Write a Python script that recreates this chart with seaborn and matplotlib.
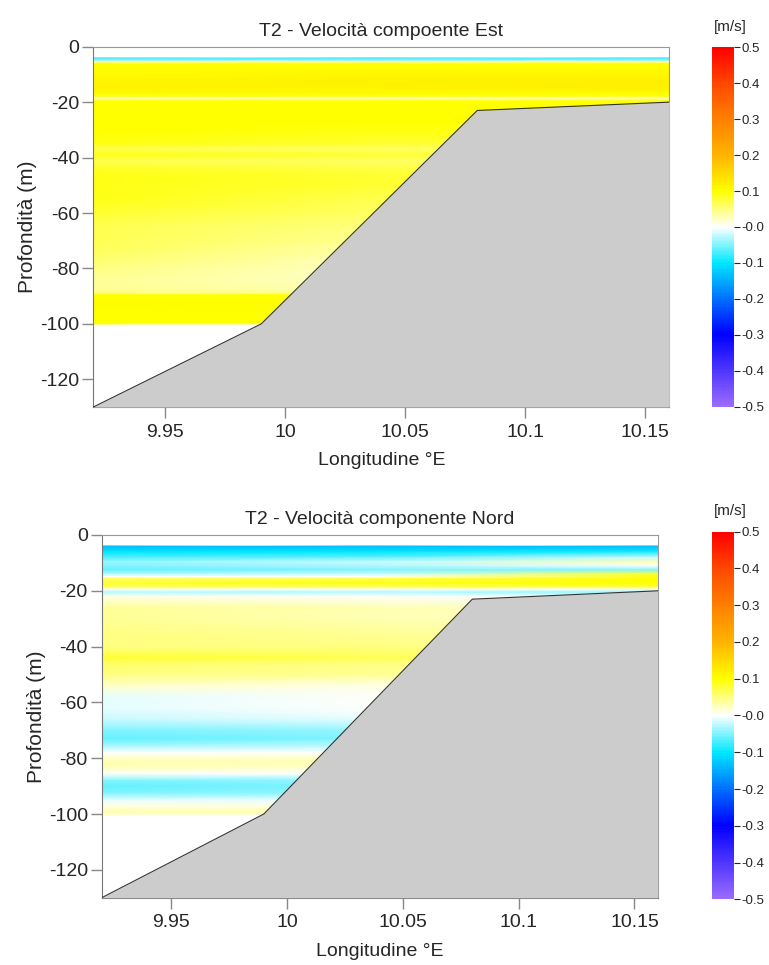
import numpy as np
import seaborn as sns
import matplotlib.pyplot as plt
from matplotlib.colors import LinearSegmentedColormap, Normalize

# profili di velocità lungo il transetto T2 (tre colonne: ovest, centro, est)
lon_cols = [9.92, 10.04, 10.16]

est_depth = [-4, -4.6, -5.4, -6.2, -8, -10, -12, -14, -15.5, -17, -18, -18.6, -19.3, -20,
             -23, -27, -31, -35, -37, -39, -41, -43, -46, -50, -55, -60, -65, -70, -75,
             -80, -84, -87, -89, -89.6, -90.4, -93, -96, -99, -100]
est_west = [-0.06, -0.07, 0.02, 0.10, 0.105, 0.105, 0.11, 0.115, 0.11, 0.105, 0.09, 0.02, 0.08, 0.10,
            0.10, 0.10, 0.10, 0.09, 0.07, 0.09, 0.07, 0.08, 0.09, 0.09, 0.09, 0.08, 0.07, 0.07, 0.06,
            0.05, 0.04, 0.04, 0.05, 0.10, 0.10, 0.105, 0.10, 0.10, 0.09]
est_centre = [-0.06, -0.07, 0.02, 0.10, 0.105, 0.11, 0.115, 0.115, 0.11, 0.105, 0.09, 0.02, 0.08, 0.10,
              0.10, 0.10, 0.09, 0.08, 0.06, 0.08, 0.06, 0.07, 0.08, 0.08, 0.07, 0.06, 0.05, 0.04, 0.03,
              0.02, 0.02, 0.03, 0.04, 0.10, 0.10, 0.10, 0.10, 0.10, 0.09]
est_east = [-0.06, -0.07, 0.02, 0.10, 0.105, 0.11, 0.12, 0.12, 0.115, 0.105, 0.09, 0.02, 0.08, 0.10,
            0.10, 0.10, 0.09, 0.08, 0.06, 0.08, 0.06, 0.07, 0.08, 0.08, 0.07, 0.06, 0.05, 0.04, 0.03,
            0.02, 0.02, 0.03, 0.04, 0.10, 0.10, 0.10, 0.10, 0.10, 0.09]

nord_depth = [-4, -4.3, -6, -8, -9.6, -11, -12.5, -14, -15, -15.7, -17, -18.5, -19.5, -20.5,
              -22, -26, -30, -35, -40, -44, -46, -50, -54, -58, -62, -66, -70, -73, -76, -78,
              -81, -83, -85.5, -88, -90, -92.5, -95, -97, -99, -100]
nord_west = [-0.13, -0.13, -0.10, -0.07, -0.04, -0.05, -0.06, -0.03, 0.0, 0.06, 0.08, 0.07, 0.0, -0.03,
             0.01, 0.04, 0.04, 0.05, 0.05, 0.08, 0.06, 0.05, 0.02, -0.01, -0.01, -0.02, -0.05, -0.06,
             -0.03, 0.0, 0.03, 0.03, 0.0, -0.05, -0.06, -0.05, -0.01, 0.01, 0.03, 0.03]
nord_centre = [-0.13, -0.13, -0.10, -0.06, -0.02, -0.03, -0.05, -0.02, 0.0, 0.07, 0.09, 0.07, 0.0, -0.03,
               0.0, 0.03, 0.03, 0.04, 0.05, 0.07, 0.05, 0.04, 0.01, 0.0, 0.0, -0.01, -0.04, -0.05,
               -0.02, 0.0, 0.03, 0.02, 0.0, -0.04, -0.05, -0.04, -0.01, 0.01, 0.03, 0.03]
nord_east = [-0.13, -0.13, -0.09, -0.02, 0.03, 0.0, -0.05, 0.08, 0.10, 0.10, 0.10, 0.08, 0.0, -0.04,
             -0.01, 0.02, 0.02, 0.03, 0.04, 0.05, 0.04, 0.03, 0.01, 0.0, 0.0, -0.01, -0.03, -0.04,
             -0.02, 0.0, 0.02, 0.02, 0.0, -0.03, -0.04, -0.03, -0.01, 0.01, 0.02, 0.02]

# fondale
bottom_lon = [9.92, 9.99, 10.08, 10.16]
bottom_depth = [-130, -100, -23, -20]

x_ticks = [9.95, 10.0, 10.05, 10.1, 10.15]
x_labels = ["9.95", "10", "10.05", "10.1", "10.15"]
y_ticks = [0, -20, -40, -60, -80, -100, -120]
cbar_ticks = [0.5, 0.4, 0.3, 0.2, 0.1, 0.0, -0.1, -0.2, -0.3, -0.4, -0.5]
cbar_labels = ["0.5", "0.4", "0.3", "0.2", "0.1", "-0.0", "-0.1", "-0.2", "-0.3", "-0.4", "-0.5"]

titles = ["T2 - Velocità compoente Est", "T2 - Velocità componente Nord"]

sns.set_style("ticks")
plt.rcParams['font.family'] = ['Liberation Sans', 'DejaVu Sans']
plt.rcParams['axes.unicode_minus'] = False

cmap = LinearSegmentedColormap.from_list("vel", [
    (0.0, "#9b6bff"), (0.2, "#0000ff"), (0.3, "#0070ff"), (0.4, "#00e8ff"),
    (0.5, "#ffffff"), (0.6, "#ffff00"), (0.7, "#ffb400"), (0.8, "#ff8000"),
    (0.9, "#ff4800"), (1.0, "#ff0000")])
norm = Normalize(-0.5, 0.5)

fig = plt.figure(figsize=(7.69, 9.65), dpi=100)
ax_pos = [[0.1213, 0.5782, 0.749, 0.3734], [0.1322, 0.0697, 0.7230, 0.3759]]
cb_pos = [[0.9255, 0.5786, 0.0294, 0.3724], [0.9255, 0.0681, 0.0294, 0.3809]]
data = [(est_depth, [est_west, est_centre, est_east]),
        (nord_depth, [nord_west, nord_centre, nord_east])]

for i in range(2):
    ax = fig.add_axes(ax_pos[i])
    depth, cols = data[i]
    Z = np.array(cols).T
    mesh = ax.pcolormesh(lon_cols, depth, Z, shading="gouraud", cmap=cmap, norm=norm)
    ax.fill_between(bottom_lon, bottom_depth, -130, color="#cccccc", lw=0, zorder=3)
    sns.lineplot(x=bottom_lon, y=bottom_depth, ax=ax, color="#333333", lw=0.8, zorder=4)
    ax.set_xlim(9.92, 10.16)
    ax.set_ylim(-130, 0)
    ax.set_xticks(x_ticks)
    ax.set_xticklabels(x_labels)
    ax.set_yticks(y_ticks)
    ax.tick_params(labelsize=14, length=8, width=1, color="#888888", pad=2)
    ax.tick_params(axis="x", pad=4)
    for s in ax.spines.values():
        s.set_color("#999999")
    ax.spines["left"].set_color("#777777")
    ax.spines["bottom"].set_color("#777777")
    ax.set_title(titles[i], fontsize=14, pad=8)
    ax.set_xlabel("Longitudine °E", fontsize=14, labelpad=8)
    ax.set_ylabel("Profondità (m)", fontsize=15, labelpad=2)

    cax = fig.add_axes(cb_pos[i])
    cb = fig.colorbar(mesh, cax=cax, ticks=cbar_ticks)
    cb.set_ticklabels(cbar_labels)
    cb.outline.set_visible(False)
    cax.tick_params(labelsize=9.5, length=4, width=0.8, pad=1)
    fig.text(0.95, cb_pos[i][1] + cb_pos[i][3] + 0.014, "[m/s]", fontsize=11,
             ha="center", va="bottom")

plt.savefig("out.png", dpi=100)
